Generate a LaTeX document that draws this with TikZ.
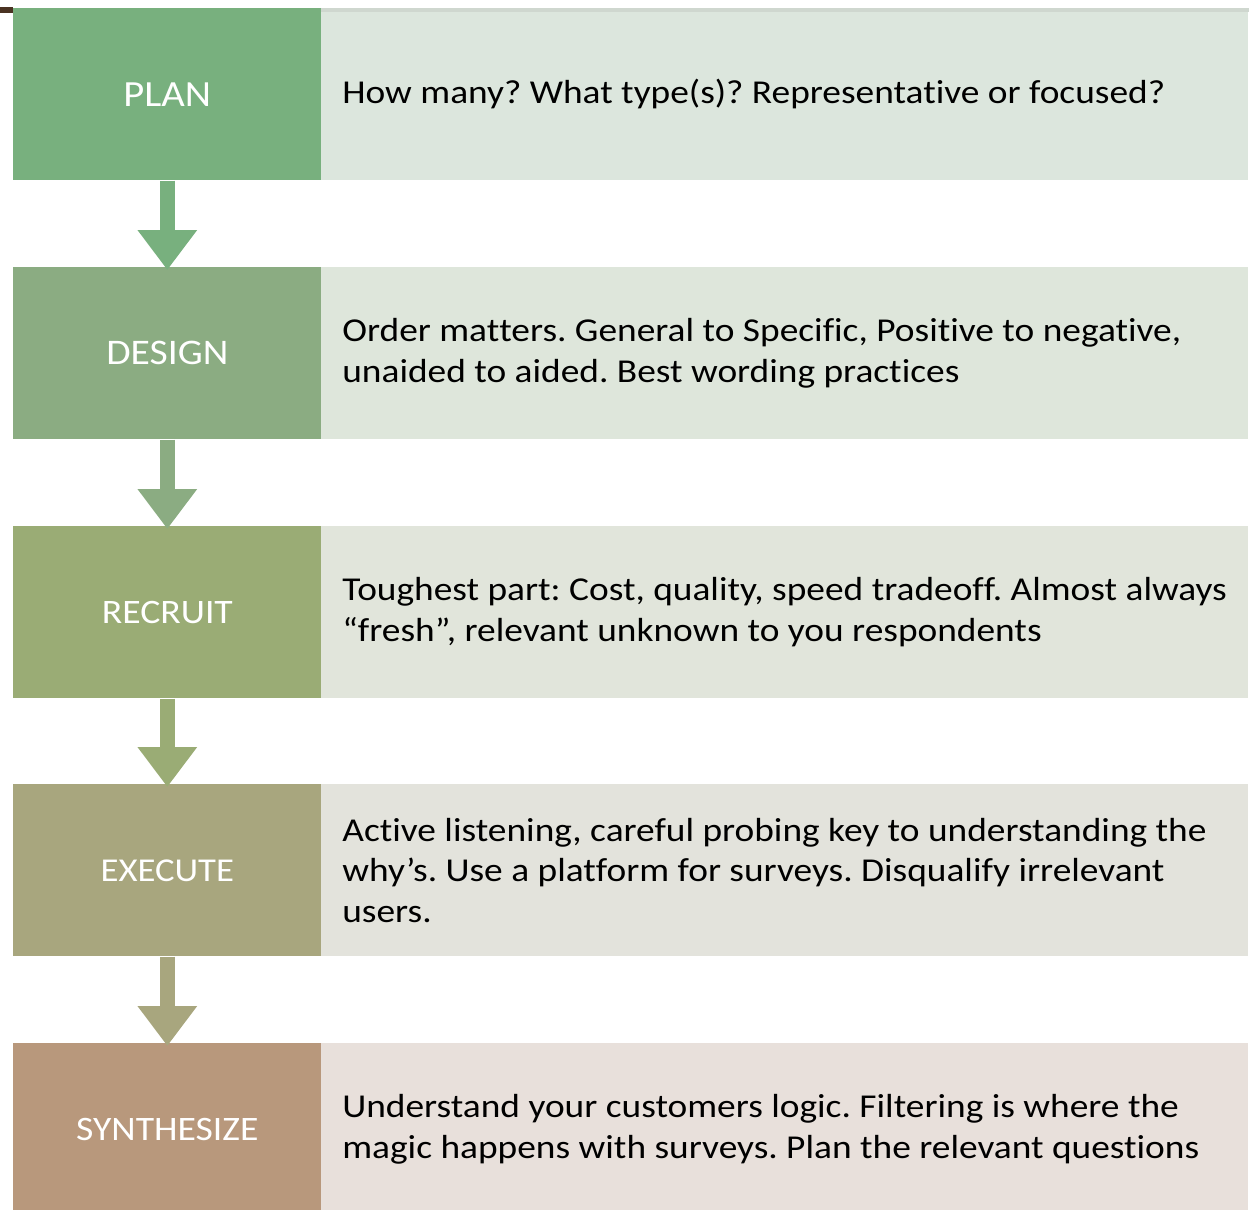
\documentclass[tikz,border=0pt]{standalone}
\usepackage{fontspec}
\setmainfont{Carlito}
\newfontfamily\descfont[FakeStretch=1.12,Ligatures={NoCommon,NoContextual},RawFeature={-liga;-clig;-calt;-dlig}]{Carlito}
\newfontfamily\labelfont[FakeStretch=1.1]{Carlito}
\usetikzlibrary{arrows.meta}
\definecolor{cA}{HTML}{78B07E}\definecolor{lA}{HTML}{DCE6DD}
\definecolor{cB}{HTML}{8BAC82}\definecolor{lB}{HTML}{DEE6DB}
\definecolor{cC}{HTML}{9AAC75}\definecolor{lC}{HTML}{E1E5DB}
\definecolor{cD}{HTML}{A8A67E}\definecolor{lD}{HTML}{E3E3DC}
\definecolor{cE}{HTML}{B8987C}\definecolor{lE}{HTML}{E8E0DB}
\definecolor{cornermark}{HTML}{4A3222}
\definecolor{topstrip}{HTML}{CFD7CF}
\tikzset{
  stagebox/.style={anchor=north west, inner sep=0pt, minimum width=6.16cm, minimum height=3.44cm,
    text=white},
  descbox/.style={anchor=north west, inner sep=0pt, minimum width=18.54cm, minimum height=3.44cm},
  desctext/.style={anchor=west, inner sep=0pt, align=left, font=\descfont\fontsize{19}{23.2}\selectfont\frenchspacing, text=black},
  flowarrow/.style={line width=0.3cm, -{Triangle[width=1.14cm,length=0.8cm]}, shorten >=-0.06cm}
}
\newcommand{\lbl}[2]{{\labelfont\fontsize{#1}{#1}\selectfont #2}}
\newcommand{\nl}{\kern0pt }
\begin{document}
\begin{tikzpicture}[x=0.02cm,y=-0.02cm]
\useasboundingbox (0,0) rectangle (1256,1209);
\fill[cornermark] (0,7) rectangle (13,13);
% rows
\node[stagebox, fill=cA] (s1) at (13,8) {\lbl{21}{PLAN}};
\node[descbox, fill=lA] (d1) at (321,8) {};
\fill[topstrip] (d1.north west) rectangle ([yshift=-0.08cm]d1.north east);
\node[desctext] (t1) at ([xshift=0.42cm]d1.west) {How many? What type(s)? Representative or focused?};

\node[stagebox, fill=cB] (s2) at (13,267) {\lbl{20.5}{DESIGN}};
\node[descbox, fill=lB] (d2) at (321,267) {};
\node[desctext] (t2) at ([xshift=0.42cm]d2.west) {Order mat\nl ters. General to Specific, Posit\nl ive to negative,\\unaided to aided. Best wording practices};

\node[stagebox, fill=cC] (s3) at (13,526) {\lbl{19.5}{RECRUIT}};
\node[descbox, fill=lC] (d3) at (321,526) {};
\node[desctext] (t3) at ([xshift=0.42cm]d3.west) {Toughest part: Cost, quality, speed tradeof\nl f. Almost always\\“fresh”, relevant unknown to you respondents};

\node[stagebox, fill=cD] (s4) at (13,784) {\lbl{19}{EXECUTE}};
\node[descbox, fill=lD] (d4) at (321,784) {};
\node[desctext] (t4) at ([xshift=0.42cm]d4.west) {Act\nl ive listening, careful probing key to understanding the\\why’s. Use a platform for surveys. Disqualify irrelevant\\users.};

\node[stagebox, fill=cE] (s5) at (13,1043) {\lbl{19.5}{SYNTHESIZE}};
\node[descbox, fill=lE] (d5) at (321,1043) {};
\node[desctext] (t5) at ([xshift=0.42cm]d5.west) {Understand your customers logic. Filtering is where the\\magic happens with surveys. Plan the relevant quest\nl ions};

% arrows
\draw[flowarrow, cA] (s1.south) -- (s2.north);
\draw[flowarrow, cB] (s2.south) -- (s3.north);
\draw[flowarrow, cC] (s3.south) -- (s4.north);
\draw[flowarrow, cD] (s4.south) -- (s5.north);
\end{tikzpicture}
\end{document}
